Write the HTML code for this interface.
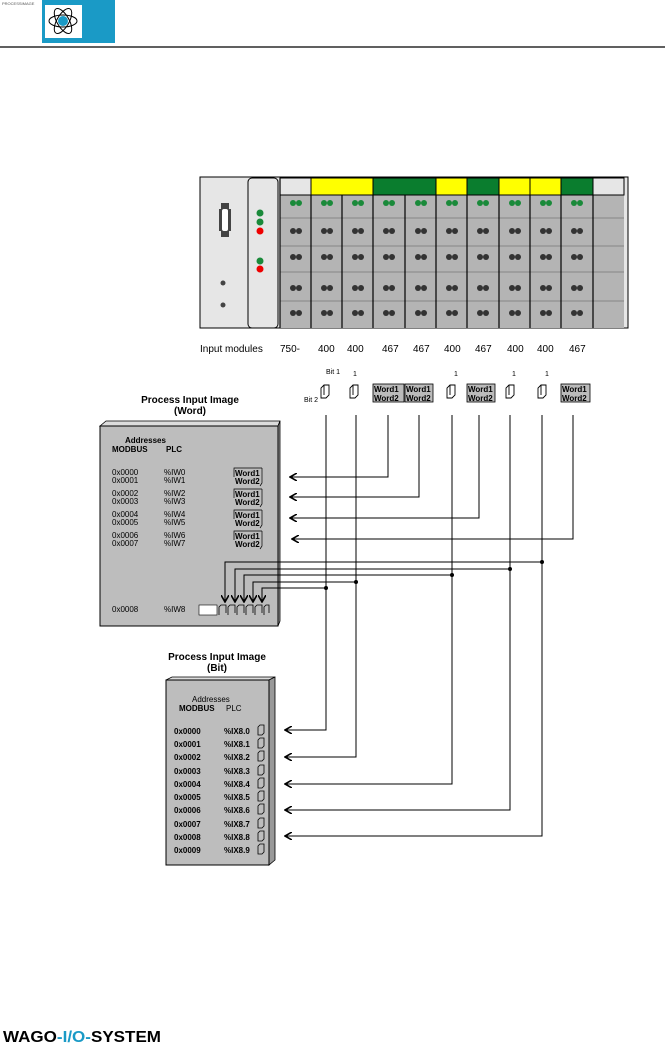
<!DOCTYPE html>
<html><head><meta charset="utf-8"><style>
html,body{margin:0;padding:0;background:#fff;}
svg text{font-family:"Liberation Sans",sans-serif;}
</style></head><body>
<svg width="665" height="1046" viewBox="0 0 665 1046" xmlns="http://www.w3.org/2000/svg">
<defs>
<marker id="ah" markerWidth="8" markerHeight="8" refX="7" refY="4" orient="auto" markerUnits="userSpaceOnUse"><path d="M0,0 L7,4 L0,8" fill="none" stroke="#000" stroke-width="1.6"/></marker>
</defs>
<!-- header -->
<text x="2" y="5" font-size="4" fill="#555">PROCESSIMAGE</text>
<rect x="42" y="0" width="73" height="43" fill="#1a9ac6"/>
<rect x="45" y="5" width="37" height="33" fill="#fff"/>
<ellipse cx="63" cy="21" rx="14" ry="6" fill="none" stroke="#000"/>
<ellipse cx="63" cy="21" rx="14" ry="6" fill="none" stroke="#000" transform="rotate(60 63 21)"/>
<ellipse cx="63" cy="21" rx="14" ry="6" fill="none" stroke="#000" transform="rotate(-60 63 21)"/>
<circle cx="63" cy="21" r="5" fill="#1a9ac6"/>
<line x1="0" y1="47" x2="665" y2="47" stroke="#000" stroke-width="1.2"/>

<!-- rack -->
<rect x="200" y="177" width="428" height="151" fill="#e6e6e6" stroke="#000"/>
<rect x="248" y="178" width="30" height="150" rx="4" fill="#e6e6e6" stroke="#000"/>
<path d="M221,203 h8 v6 h2 v22 h-2 v6 h-8 v-6 h-2 v-22 h2z" fill="#444"/>
<rect x="222" y="209" width="6" height="22" rx="2" fill="#fff"/>
<circle cx="223" cy="283" r="2.5" fill="#444"/><circle cx="223" cy="305" r="2.5" fill="#444"/>
<circle cx="260" cy="213" r="3.5" fill="#1a8a3a"/><circle cx="260" cy="222" r="3.5" fill="#1a8a3a"/><circle cx="260" cy="231" r="3.5" fill="#e00"/>
<circle cx="260" cy="261" r="3.5" fill="#1a8a3a"/><circle cx="260" cy="269" r="3.5" fill="#e00"/>
<rect x="280" y="195" width="344" height="133" fill="#b4b4b4"/>
<g stroke="#000">
<rect x="280" y="178" width="31" height="17" fill="#e6e6e6"/>
<rect x="311" y="178" width="62" height="17" fill="#ffff00"/>
<rect x="373" y="178" width="63" height="17" fill="#0a7d2e"/>
<rect x="436" y="178" width="31" height="17" fill="#ffff00"/>
<rect x="467" y="178" width="32" height="17" fill="#0a7d2e"/>
<rect x="499" y="178" width="31" height="17" fill="#ffff00"/>
<rect x="530" y="178" width="31" height="17" fill="#ffff00"/>
<rect x="561" y="178" width="32" height="17" fill="#0a7d2e"/>
<rect x="593" y="178" width="31" height="17" fill="#e6e6e6"/>
</g>
<g stroke="#777" stroke-width="0.8">
<line x1="280" y1="218" x2="624" y2="218"/><line x1="280" y1="246" x2="624" y2="246"/>
<line x1="280" y1="272" x2="624" y2="272"/><line x1="280" y1="301" x2="624" y2="301"/>
</g>
<g stroke="#000" stroke-width="1.2">
<line x1="311" y1="195" x2="311" y2="328"/><line x1="342" y1="195" x2="342" y2="328"/>
<line x1="373" y1="195" x2="373" y2="328"/><line x1="405" y1="195" x2="405" y2="328"/>
<line x1="436" y1="195" x2="436" y2="328"/><line x1="467" y1="195" x2="467" y2="328"/>
<line x1="499" y1="195" x2="499" y2="328"/><line x1="530" y1="195" x2="530" y2="328"/>
<line x1="561" y1="195" x2="561" y2="328"/><line x1="593" y1="195" x2="593" y2="328"/>
<line x1="280" y1="178" x2="280" y2="328"/>
</g>
<g fill="#1a8a3a">
<circle cx="293" cy="203" r="3"/><circle cx="299" cy="203" r="3"/>
<circle cx="324" cy="203" r="3"/><circle cx="330" cy="203" r="3"/>
<circle cx="355" cy="203" r="3"/><circle cx="361" cy="203" r="3"/>
<circle cx="386" cy="203" r="3"/><circle cx="392" cy="203" r="3"/>
<circle cx="418" cy="203" r="3"/><circle cx="424" cy="203" r="3"/>
<circle cx="449" cy="203" r="3"/><circle cx="455" cy="203" r="3"/>
<circle cx="480" cy="203" r="3"/><circle cx="486" cy="203" r="3"/>
<circle cx="512" cy="203" r="3"/><circle cx="518" cy="203" r="3"/>
<circle cx="543" cy="203" r="3"/><circle cx="549" cy="203" r="3"/>
<circle cx="574" cy="203" r="3"/><circle cx="580" cy="203" r="3"/>
</g>
<g fill="#333">
<g id="r1"><circle cx="293" cy="231" r="3"/><circle cx="299" cy="231" r="3"/>
<circle cx="324" cy="231" r="3"/><circle cx="330" cy="231" r="3"/>
<circle cx="355" cy="231" r="3"/><circle cx="361" cy="231" r="3"/>
<circle cx="386" cy="231" r="3"/><circle cx="392" cy="231" r="3"/>
<circle cx="418" cy="231" r="3"/><circle cx="424" cy="231" r="3"/>
<circle cx="449" cy="231" r="3"/><circle cx="455" cy="231" r="3"/>
<circle cx="480" cy="231" r="3"/><circle cx="486" cy="231" r="3"/>
<circle cx="512" cy="231" r="3"/><circle cx="518" cy="231" r="3"/>
<circle cx="543" cy="231" r="3"/><circle cx="549" cy="231" r="3"/>
<circle cx="574" cy="231" r="3"/><circle cx="580" cy="231" r="3"/></g>
<use href="#r1" y="26"/><use href="#r1" y="57"/><use href="#r1" y="82"/>
</g>
<g font-size="10" fill="#000">
<text x="200" y="352">Input  modules</text>
<text x="280" y="352">750-</text><text x="318" y="352">400</text><text x="347" y="352">400</text>
<text x="382" y="352">467</text><text x="413" y="352">467</text><text x="444" y="352">400</text>
<text x="475" y="352">467</text><text x="507" y="352">400</text><text x="537" y="352">400</text>
<text x="569" y="352">467</text>
</g>

<!-- top symbols -->
<g font-size="8" font-weight="bold">
<g fill="#bbb" stroke="#000" stroke-width="0.8">
<rect x="373" y="384" width="31" height="18"/><rect x="405" y="384" width="28" height="18"/>
<rect x="467" y="384" width="28" height="18"/><rect x="561" y="384" width="29" height="18"/>
</g>
<text x="374" y="392">Word1</text><text x="374" y="401">Word2</text>
<text x="406" y="392">Word1</text><text x="406" y="401">Word2</text>
<text x="468" y="392">Word1</text><text x="468" y="401">Word2</text>
<text x="562" y="392">Word1</text><text x="562" y="401">Word2</text>
</g>
<g font-size="7" fill="#000">
<text x="326" y="374">Bit 1</text><text x="304" y="402">Bit 2</text>
<text x="353" y="376">1</text><text x="454" y="376">1</text><text x="512" y="376">1</text><text x="545" y="376">1</text>
</g>
<g fill="none" stroke="#000" stroke-width="0.9">
<path d="M321,398 v-10 l3,-3 h5 v10 l-3,3z M324,385 v10"/>
<path d="M350,398 v-10 l3,-3 h5 v10 l-3,3z M353,385 v10"/>
<path d="M447,398 v-10 l3,-3 h5 v10 l-3,3z M450,385 v10"/>
<path d="M506,398 v-10 l3,-3 h5 v10 l-3,3z M509,385 v10"/>
<path d="M538,398 v-10 l3,-3 h5 v10 l-3,3z M541,385 v10"/>
</g>

<!-- Word box -->
<text x="190" y="403" font-size="10" font-weight="bold" text-anchor="middle">Process Input Image</text>
<text x="190" y="414" font-size="10" font-weight="bold" text-anchor="middle">(Word)</text>
<path d="M100,426 L106,421 L280,421 L278,426z" fill="#ddd" stroke="#000" stroke-width="0.8"/>
<path d="M278,426 L280,421 L280,621 L278,626z" fill="#999" stroke="#000" stroke-width="0.8"/>
<rect x="100" y="426" width="178" height="200" fill="#bdbdbd" stroke="#000"/>
<g font-size="8" font-weight="bold">
<text x="125" y="443">Addresses</text>
<text x="112" y="452">MODBUS</text><text x="166" y="452">PLC</text>
</g>
<g font-size="8">
<text x="112" y="475">0x0000</text><text x="112" y="483">0x0001</text>
<text x="112" y="496">0x0002</text><text x="112" y="504">0x0003</text>
<text x="112" y="517">0x0004</text><text x="112" y="525">0x0005</text>
<text x="112" y="538">0x0006</text><text x="112" y="546">0x0007</text>
<text x="112" y="612">0x0008</text>
<text x="164" y="475">%IW0</text><text x="164" y="483">%IW1</text>
<text x="164" y="496">%IW2</text><text x="164" y="504">%IW3</text>
<text x="164" y="517">%IW4</text><text x="164" y="525">%IW5</text>
<text x="164" y="538">%IW6</text><text x="164" y="546">%IW7</text>
<text x="164" y="612">%IW8</text>
</g>
<g font-size="8" font-weight="bold">
<text x="235" y="476">Word1</text><text x="235" y="484">Word2</text>
<text x="235" y="497">Word1</text><text x="235" y="505">Word2</text>
<text x="235" y="518">Word1</text><text x="235" y="526">Word2</text>
<text x="235" y="539">Word1</text><text x="235" y="547">Word2</text>
</g>
<g fill="none" stroke="#000" stroke-width="0.7">
<path d="M234,477 v-9 h28 M262,468 v15 l-2,3"/>
<path d="M234,498 v-9 h28 M262,489 v15 l-2,3"/>
<path d="M234,519 v-9 h28 M262,510 v15 l-2,3"/>
<path d="M234,540 v-9 h28 M262,531 v15 l-2,3"/>
</g>
<rect x="199" y="605" width="18" height="10" fill="#fff" stroke="#000" stroke-width="0.6"/>
<g fill="none" stroke="#000" stroke-width="0.8">
<path d="M219,615 v-8 l2,-2 h5 v8"/><path d="M228,615 v-8 l2,-2 h5 v8"/><path d="M237,615 v-8 l2,-2 h5 v8"/>
<path d="M246,615 v-8 l2,-2 h5 v8"/><path d="M255,615 v-8 l2,-2 h5 v8"/><path d="M264,615 v-8 l2,-2 h3 v8"/>
</g>

<!-- Bit box -->
<text x="217" y="660" font-size="10" font-weight="bold" text-anchor="middle">Process Input Image</text>
<text x="217" y="671" font-size="10" font-weight="bold" text-anchor="middle">(Bit)</text>
<path d="M166,680 L172,677 L275,677 L269,680z" fill="#ddd" stroke="#000" stroke-width="0.8"/>
<path d="M269,680 L275,677 L275,860 L269,865z" fill="#999" stroke="#000" stroke-width="0.8"/>
<rect x="166" y="680" width="103" height="185" fill="#bdbdbd" stroke="#000"/>
<g font-size="8">
<text x="192" y="702">Addresses</text>
<text x="179" y="711" font-weight="bold">MODBUS</text><text x="226" y="711">PLC</text>
</g>
<g font-size="8" font-weight="bold">
<text x="174" y="734">0x0000</text><text x="224" y="734">%IX8.0</text>
<text x="174" y="747">0x0001</text><text x="224" y="747">%IX8.1</text>
<text x="174" y="760">0x0002</text><text x="224" y="760">%IX8.2</text>
<text x="174" y="774">0x0003</text><text x="224" y="774">%IX8.3</text>
<text x="174" y="787">0x0004</text><text x="224" y="787">%IX8.4</text>
<text x="174" y="800">0x0005</text><text x="224" y="800">%IX8.5</text>
<text x="174" y="813">0x0006</text><text x="224" y="813">%IX8.6</text>
<text x="174" y="827">0x0007</text><text x="224" y="827">%IX8.7</text>
<text x="174" y="840">0x0008</text><text x="224" y="840">%IX8.8</text>
<text x="174" y="853">0x0009</text><text x="224" y="853">%IX8.9</text>
</g>
<g fill="none" stroke="#000" stroke-width="0.8">
<path d="M258,735 v-8 l2,-2 h4 v8 l-2,2z"/><path d="M258,748 v-8 l2,-2 h4 v8 l-2,2z"/>
<path d="M258,761 v-8 l2,-2 h4 v8 l-2,2z"/><path d="M258,775 v-8 l2,-2 h4 v8 l-2,2z"/>
<path d="M258,788 v-8 l2,-2 h4 v8 l-2,2z"/><path d="M258,801 v-8 l2,-2 h4 v8 l-2,2z"/>
<path d="M258,814 v-8 l2,-2 h4 v8 l-2,2z"/><path d="M258,828 v-8 l2,-2 h4 v8 l-2,2z"/>
<path d="M258,841 v-8 l2,-2 h4 v8 l-2,2z"/><path d="M258,854 v-8 l2,-2 h4 v8 l-2,2z"/>
</g>

<!-- connectors -->
<g fill="none" stroke="#000" stroke-width="1">
<path d="M388,415 V477 H290" marker-end="url(#ah)"/>
<path d="M419,415 V497 H290" marker-end="url(#ah)"/>
<path d="M479,415 V518 H290" marker-end="url(#ah)"/>
<path d="M573,415 V539 H292" marker-end="url(#ah)"/>
<path d="M542,562 H225 V602" marker-end="url(#ah)"/>
<path d="M510,569 H235 V602" marker-end="url(#ah)"/>
<path d="M452,575 H244 V602" marker-end="url(#ah)"/>
<path d="M356,582 H253 V602" marker-end="url(#ah)"/>
<path d="M326,588 H262 V602" marker-end="url(#ah)"/>
<path d="M326,415 V730 H285" marker-end="url(#ah)"/>
<path d="M356,415 V757 H285" marker-end="url(#ah)"/>
<path d="M452,415 V784 H285" marker-end="url(#ah)"/>
<path d="M510,415 V810 H285" marker-end="url(#ah)"/>
<path d="M542,415 V836 H285" marker-end="url(#ah)"/>
</g>
<g fill="#000">
<circle cx="542" cy="562" r="2"/><circle cx="510" cy="569" r="2"/><circle cx="452" cy="575" r="2"/>
<circle cx="356" cy="582" r="2"/><circle cx="326" cy="588" r="2"/>
</g>

<!-- footer -->
<text x="3" y="1042" font-size="16" font-weight="bold" fill="#000" textLength="158" lengthAdjust="spacingAndGlyphs">WAGO<tspan fill="#1a9ac6">-I/O-</tspan>SYSTEM</text>
</svg>
</body></html>
